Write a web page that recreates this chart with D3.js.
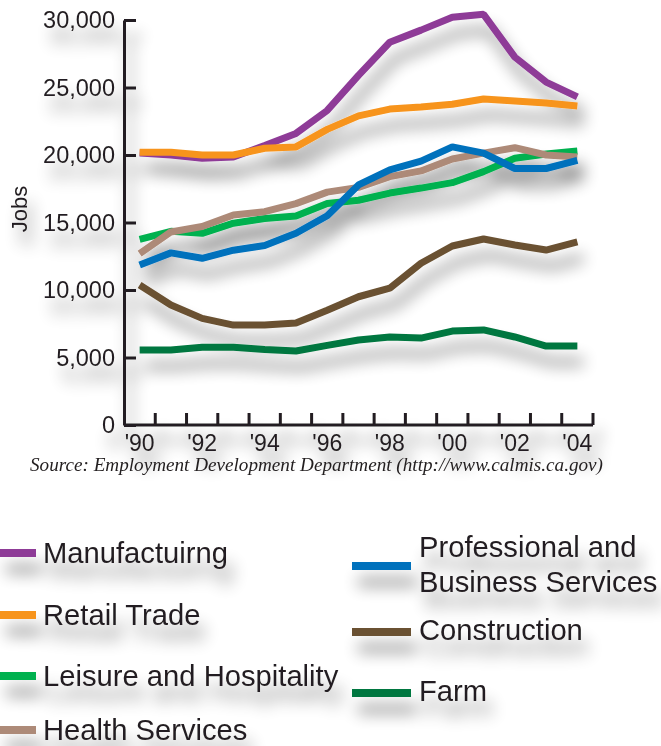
<!DOCTYPE html>
<html>
<head>
<meta charset="utf-8">
<script src="https://cdn.jsdelivr.net/npm/d3@7"></script>
<style>
  body { margin: 0; background: #fff; }
  svg { display: block; font-family: "Liberation Sans", Arial, sans-serif; }
  text { fill: #231f20; }
</style>
</head>
<body>
<svg width="661" height="746"></svg>
<script>
// data (jobs, 1990-2004)
const years = d3.range(1990, 2005);
const manufacturing = [20150, 20000, 19750, 19850, 20700, 21600, 23300, 25900, 28350, 29250, 30200, 30420, 27250, 25400, 24300];
const retailTrade   = [20200, 20200, 20000, 20000, 20500, 20600, 21900, 22900, 23400, 23560, 23760, 24150, 24000, 23850, 23630];
const leisure       = [13750, 14350, 14200, 14950, 15300, 15480, 16400, 16650, 17180, 17550, 17950, 18770, 19760, 20070, 20300];
const health        = [12700, 14300, 14700, 15550, 15800, 16400, 17250, 17600, 18400, 18820, 19700, 20140, 20540, 20000, 19850];
const professional  = [11850, 12750, 12350, 12950, 13300, 14200, 15500, 17780, 18900, 19550, 20600, 20140, 19000, 19000, 19600];
const construction  = [10370, 8890, 7900, 7400, 7400, 7560, 8500, 9500, 10130, 11980, 13260, 13780, 13330, 12960, 13560];
const farm          = [5550, 5550, 5760, 5760, 5600, 5480, 5900, 6300, 6520, 6440, 6960, 7040, 6520, 5850, 5850];

const yTicks = [0, 5000, 10000, 15000, 20000, 25000, 30000];
const xLabelYears = [1990, 1992, 1994, 1996, 1998, 2000, 2002, 2004];

const series = [
  { name: "Farm", values: farm, color: "#00773f" },
  { name: "Construction", values: construction, color: "#6a5132" },
  { name: "Leisure and Hospitality", values: leisure, color: "#00b14f" },
  { name: "Health Services", values: health, color: "#ad8a78" },
  { name: "Professional and Business Services", values: professional, color: "#0071bc" },
  { name: "Manufactuirng", values: manufacturing, color: "#8e3b97" },
  { name: "Retail Trade", values: retailTrade, color: "#f7941d" }
];

const svg = d3.select("svg");

// soft drop shadow used on everything
const defs = svg.append("defs");
const f = defs.append("filter").attr("id", "shadow")
    .attr("filterUnits", "userSpaceOnUse")
    .attr("x", -50).attr("y", -50).attr("width", 800).attr("height", 900);
f.append("feGaussianBlur").attr("in", "SourceAlpha").attr("stdDeviation", 8);
f.append("feOffset").attr("dx", 6).attr("dy", 16).attr("result", "off");
f.append("feComponentTransfer").append("feFuncA").attr("type", "linear").attr("slope", 0.45);
const merge = f.append("feMerge");
merge.append("feMergeNode");
merge.append("feMergeNode").attr("in", "SourceGraphic");

const x = d3.scaleBand().domain(years).range([124, 593]);
const y = d3.scaleLinear().domain([0, 30000]).range([425, 20]);
const cx = d => x(d) + x.bandwidth() / 2;

const chart = svg.append("g").attr("filter", "url(#shadow)");

// y axis
const yAxis = chart.append("g")
    .attr("transform", "translate(124,0)")
    .call(d3.axisLeft(y).tickValues(yTicks).tickSizeInner(-12).tickSizeOuter(0).tickPadding(9)
      .tickFormat(d3.format(",")));
yAxis.select(".domain").attr("stroke", "#231f20").attr("stroke-width", 3);
yAxis.selectAll(".tick line").attr("stroke", "#231f20").attr("stroke-width", 3);
yAxis.selectAll(".tick text").attr("font-size", 23.5).attr("font-family", null).attr("fill", "#231f20");

// x axis: ticks at band edges, labels on even years
chart.append("line")
    .attr("x1", 124).attr("x2", x(2004) + x.bandwidth())
    .attr("y1", y(0)).attr("y2", y(0))
    .attr("stroke", "#231f20").attr("stroke-width", 3);
chart.selectAll(".xtick").data(years).enter().append("line")
    .attr("class", "xtick")
    .attr("x1", d => x(d) + x.bandwidth()).attr("x2", d => x(d) + x.bandwidth())
    .attr("y1", y(0)).attr("y2", y(0) - 12)
    .attr("stroke", "#231f20").attr("stroke-width", 3);
chart.selectAll(".xlab").data(xLabelYears).enter().append("text")
    .attr("class", "xlab")
    .attr("x", d => cx(d)).attr("y", 451)
    .attr("text-anchor", "middle").attr("font-size", 23)
    .text(d => "'" + String(d).slice(2));

chart.append("text")
    .attr("transform", "translate(27,209) rotate(-90)")
    .attr("text-anchor", "middle").attr("font-size", 22)
    .text("Jobs");

// lines
const line = d3.line().x((d, i) => cx(years[i])).y(d => y(d));
chart.selectAll(".series").data(series).enter().append("path")
    .attr("class", "series")
    .attr("d", d => line(d.values))
    .attr("fill", "none")
    .attr("stroke", d => d.color)
    .attr("stroke-width", 7)
    .attr("stroke-linejoin", "bevel");

svg.append("text")
    .attr("x", 30).attr("y", 471)
    .attr("textLength", 573).attr("lengthAdjust", "spacingAndGlyphs")
    .attr("font-family", "'Liberation Serif', 'Times New Roman', serif")
    .attr("font-style", "italic").attr("font-size", 19.5)
    .text("Source: Employment Development Department (http://www.calmis.ca.gov)");

// legend
const legendLeft = [
  { s: series[5], y: 553 }, { s: series[6], y: 615 },
  { s: series[2], y: 676 }, { s: series[3], y: 730 }
];
const legendRight = [
  { s: series[4], y: 566, lines: ["Professional and", "Business Services"] },
  { s: series[1], y: 632 }, { s: series[0], y: 693 }
];
const legend = svg.append("g").attr("filter", "url(#shadow)");
legendLeft.forEach(d => {
  legend.append("rect").attr("x", 0).attr("y", d.y - 4).attr("width", 36).attr("height", 8).attr("fill", d.s.color);
  legend.append("text").attr("x", 43).attr("y", d.y + 10).attr("font-size", 29.2).text(d.s.name);
});
legendRight.forEach(d => {
  legend.append("rect").attr("x", 352).attr("y", d.y - 4).attr("width", 59).attr("height", 8).attr("fill", d.s.color);
  if (d.lines) {
    d.lines.forEach((t, i) => legend.append("text").attr("x", 419).attr("y", 557 + i * 35).attr("font-size", 29.2).text(t));
  } else {
    legend.append("text").attr("x", 419).attr("y", d.y + 8).attr("font-size", 29.2).text(d.s.name);
  }
});
</script>
</body>
</html>
